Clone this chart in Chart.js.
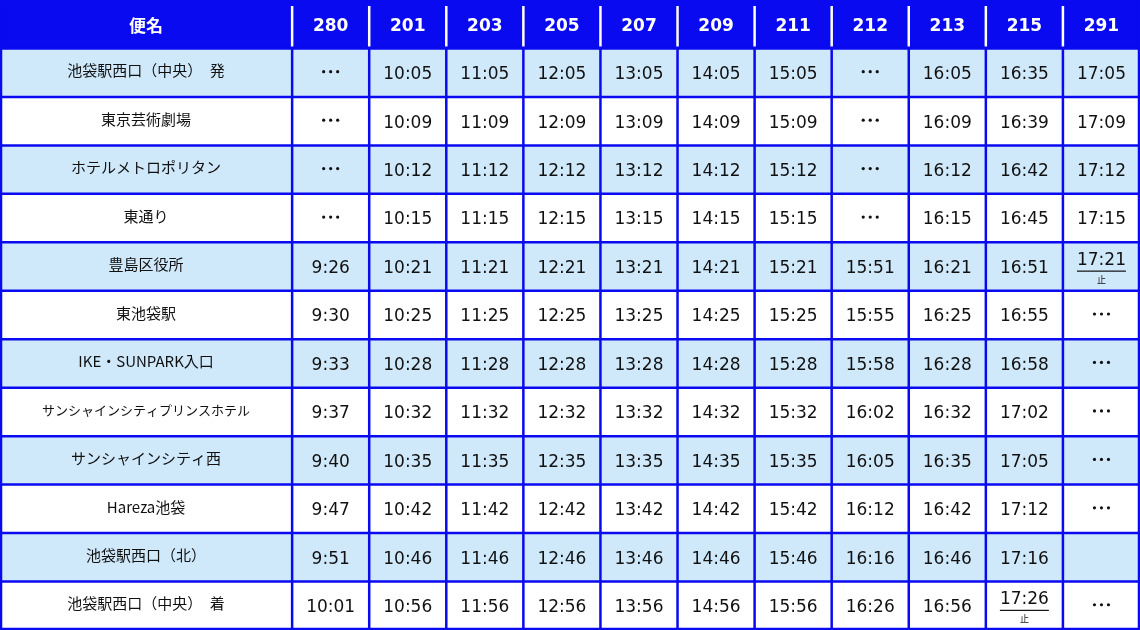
<!DOCTYPE html>
<html>
<head>
<meta charset="utf-8">
<script src="https://cdn.jsdelivr.net/npm/chart.js@4.4.0/dist/chart.umd.min.js"></script>
<style>
  html, body { margin: 0; padding: 0; background: #fff; }
  #wrap { width: 1140px; height: 630px; }
</style>
</head>
<body>
<div id="wrap"><canvas id="tt"></canvas></div>
<script>
// Timetable data
const headerTitle = '便名';
const trips = ['280', '201', '203', '205', '207', '209', '211', '212', '213', '215', '291'];
const stops = [
  '池袋駅西口（中央）　発', '東京芸術劇場', 'ホテルメトロポリタン', '東通り', '豊島区役所', '東池袋駅',
  'IKE・SUNPARK入口', 'サンシャインシティプリンスホテル', 'サンシャインシティ西', 'Hareza池袋',
  '池袋駅西口（北）', '池袋駅西口（中央）　着'
];
const D = '・・・';
const times = [
  [D, '10:05', '11:05', '12:05', '13:05', '14:05', '15:05', D, '16:05', '16:35', '17:05'],
  [D, '10:09', '11:09', '12:09', '13:09', '14:09', '15:09', D, '16:09', '16:39', '17:09'],
  [D, '10:12', '11:12', '12:12', '13:12', '14:12', '15:12', D, '16:12', '16:42', '17:12'],
  [D, '10:15', '11:15', '12:15', '13:15', '14:15', '15:15', D, '16:15', '16:45', '17:15'],
  ['9:26', '10:21', '11:21', '12:21', '13:21', '14:21', '15:21', '15:51', '16:21', '16:51', '17:21'],
  ['9:30', '10:25', '11:25', '12:25', '13:25', '14:25', '15:25', '15:55', '16:25', '16:55', D],
  ['9:33', '10:28', '11:28', '12:28', '13:28', '14:28', '15:28', '15:58', '16:28', '16:58', D],
  ['9:37', '10:32', '11:32', '12:32', '13:32', '14:32', '15:32', '16:02', '16:32', '17:02', D],
  ['9:40', '10:35', '11:35', '12:35', '13:35', '14:35', '15:35', '16:05', '16:35', '17:05', D],
  ['9:47', '10:42', '11:42', '12:42', '13:42', '14:42', '15:42', '16:12', '16:42', '17:12', D],
  ['9:51', '10:46', '11:46', '12:46', '13:46', '14:46', '15:46', '16:16', '16:46', '17:16', ''],
  ['10:01', '10:56', '11:56', '12:56', '13:56', '14:56', '15:56', '16:26', '16:56', '17:26', D]
];
// cells where the trip terminates: [stopIndex, tripIndex]
const terminations = [[4, 10], [11, 9]];
const stopMark = '止';

const nameColWidth = 3.79; // in trip-column units
const totalCols = nameColWidth + trips.length;
const totalRows = stops.length + 1;
const latin = '"DejaVu Sans", Verdana, sans-serif';
const cjk = '"Noto Sans CJK JP", sans-serif';

function colEdges(c) { // c = -1 for name column
  if (c < 0) return [0, nameColWidth];
  return [nameColWidth + c, nameColWidth + c + 1];
}

function drawDots(ctx, xm, ym) {
  for (let i = -1; i <= 1; i++) {
    ctx.beginPath();
    ctx.arc(xm + i * 7, ym, 1.6, 0, Math.PI * 2);
    ctx.fill();
  }
}

const tablePlugin = {
  id: 'tablePlugin',
  afterDraw(chart) {
    const ctx = chart.ctx;
    const xs = chart.scales.x, ys = chart.scales.y;
    const X = v => xs.getPixelForValue(v);
    const Y = v => ys.getPixelForValue(v);
    const blue = '#0a0af0';
    const lightBlue = '#cfe9fb';

    ctx.save();
    // header
    ctx.fillStyle = blue;
    ctx.fillRect(X(0), Y(0), X(totalCols) - X(0), Y(1) - Y(0));
    ctx.fillStyle = '#fff';
    ctx.textAlign = 'center';
    ctx.textBaseline = 'middle';
    ctx.font = 'bold 17px ' + cjk;
    ctx.fillText(headerTitle, (X(0) + X(nameColWidth)) / 2, (Y(0) + Y(1)) / 2 + 1);
    ctx.font = 'bold 17px ' + latin;
    trips.forEach((t, c) => {
      const [a, b] = colEdges(c);
      ctx.fillText(t, (X(a) + X(b)) / 2, (Y(0) + Y(1)) / 2 + 2);
    });

    // body rows
    stops.forEach((s, r) => {
      const y0 = Y(r + 1), y1 = Y(r + 2), ym = (y0 + y1) / 2;
      ctx.fillStyle = r % 2 === 0 ? lightBlue : '#fff';
      ctx.fillRect(X(0), y0, X(totalCols) - X(0), y1 - y0);
      ctx.fillStyle = '#111';
      ctx.font = (s.length > 14 ? '13px ' : '15px ') + cjk;
      ctx.fillText(s, (X(0) + X(nameColWidth)) / 2, ym - 2);
      times[r].forEach((t, c) => {
        const [a, b] = colEdges(c);
        const xm = (X(a) + X(b)) / 2;
        const term = terminations.some(p => p[0] === r && p[1] === c);
        if (t === D) { drawDots(ctx, xm, ym - 1); return; }
        ctx.font = '17px ' + latin;
        if (term) {
          ctx.fillText(t, xm, ym - 6);
          const w = ctx.measureText(t).width;
          ctx.fillRect(xm - w / 2, ym + 4, w, 1.2);
          ctx.font = '9px ' + cjk;
          ctx.fillText(stopMark, xm, ym + 13);
        } else {
          ctx.fillText(t, xm, ym + 2);
        }
      });
    });

    // grid lines
    ctx.strokeStyle = blue;
    ctx.lineWidth = 2.5;
    for (let r = 1; r <= totalRows; r++) {
      ctx.beginPath();
      ctx.moveTo(X(0), Y(r)); ctx.lineTo(X(totalCols), Y(r)); ctx.stroke();
    }
    for (let c = -1; c <= trips.length; c++) {
      const xv = c < 0 ? 0 : nameColWidth + c;
      ctx.beginPath();
      ctx.strokeStyle = blue;
      ctx.moveTo(X(xv), Y(1)); ctx.lineTo(X(xv), Y(totalRows)); ctx.stroke();
      if (c >= 0 && c < trips.length) {
        ctx.strokeStyle = '#fff';
        ctx.beginPath();
        ctx.moveTo(X(xv), Y(0) + 6); ctx.lineTo(X(xv), Y(1) - 2); ctx.stroke();
      }
    }
    ctx.strokeStyle = blue;
    ctx.strokeRect(X(0) + 1, Y(0) + 1, X(totalCols) - X(0) - 2, Y(totalRows) - Y(0) - 2);
    ctx.restore();
  }
};

new Chart(document.getElementById('tt'), {
  type: 'scatter',
  data: { datasets: [{ data: [], pointRadius: 0 }] },
  options: {
    responsive: true,
    maintainAspectRatio: false,
    animation: false,
    layout: { padding: 0 },
    plugins: { legend: { display: false }, tooltip: { enabled: false } },
    scales: {
      x: { type: 'linear', min: 0, max: totalCols, display: false },
      y: { type: 'linear', min: 0, max: totalRows, reverse: true, display: false }
    }
  },
  plugins: [tablePlugin]
});
</script>
</body>
</html>
